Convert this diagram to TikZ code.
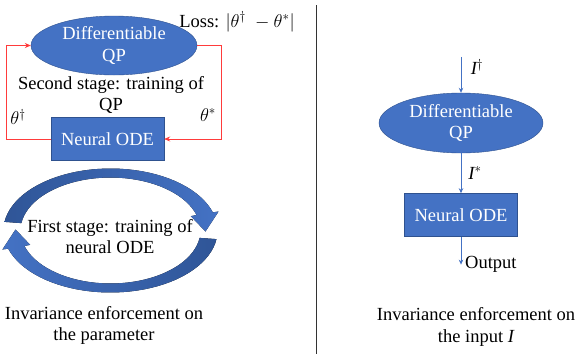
\RequirePackage{fix-cm}
\documentclass[tikz,border=0pt]{standalone}
\usepackage{fontspec}
\setmainfont{Liberation Serif}
\usepackage{amsmath,amssymb}
\usetikzlibrary{arrows.meta,positioning,shapes.geometric}
\definecolor{boxblue}{HTML}{4472C4}
\definecolor{boxline}{HTML}{2F528F}
\definecolor{ringdk}{HTML}{2F5597}
\definecolor{ringlt}{HTML}{4472C4}
\definecolor{loopred}{HTML}{FF3B3B}

\begin{document}
\begin{tikzpicture}[x=1pt, y=-1pt,
  font=\fontsize{18.5pt}{21.5pt}\selectfont,
  qp/.style={ellipse, draw=boxline, fill=boxblue, text=white, align=center, inner sep=0pt, minimum width=166pt, minimum height=59pt},
  ode/.style={rectangle, draw=boxline, fill=boxblue, text=white, minimum width=113pt, minimum height=43pt, inner sep=0pt},
  txt/.style={align=center, inner sep=1pt},
  redarr/.style={-{Stealth[length=6pt,width=5pt]}, draw=loopred, line width=0.7pt},
  bluearr/.style={-{Stealth[length=5pt,width=4.5pt]}, draw=boxblue, line width=0.7pt}
]
\useasboundingbox (0,0) rectangle (581,354);

% left: invariance on the parameter
\node[qp] (qpL) at (114,45.5) {Differentiable\\QP};
\node[ode] (odeL) at (107.5,139) {Neural ODE};
\node[txt] (loss) at (237,22) {Loss: $|\theta^{\dagger}\;-\theta^{*}|$};
\node[txt] (stage2) at (111,95) {Second stage: training of\\QP};
\node (thdag) at (18,117) {$\theta^{\dagger}$};
\node (thstar) at (208,115) {$\theta^{*}$};

\draw[redarr] (odeL.west) -- ++(-44,0) |- (qpL.west);
\draw[redarr] (qpL.east) -- ++(24,0) |- (odeL.east);

% circular arrows
\fill[left color=ringdk, right color=ringlt]
  plot[domain=172:17, samples=40, variable=\t] ({110.5+107*cos(\t)},{230.5-62*sin(\t)})
  -- ({110.5+113*cos(17)},{230.5-65*sin(17)})
  -- ({110.5+95*cos(-1)},{230.5-57*sin(-1)})
  -- ({110.5+84*cos(17)},{230.5-49*sin(17)})
  -- plot[domain=17:172, samples=40, variable=\t] ({110.5+90*cos(\t)},{230.5-53*sin(\t)})
  -- cycle;
\fill[left color=ringlt, right color=ringdk]
  plot[domain=352:197, samples=40, variable=\t] ({110.5+107*cos(\t)},{230.5-62*sin(\t)})
  -- ({110.5+113*cos(197)},{230.5-65*sin(197)})
  -- ({110.5+95*cos(179)},{230.5-57*sin(179)})
  -- ({110.5+84*cos(197)},{230.5-49*sin(197)})
  -- plot[domain=197:352, samples=40, variable=\t] ({110.5+90*cos(\t)},{230.5-53*sin(\t)})
  -- cycle;
\node[txt] (stage1) at (110,236.5) {First stage: training of\\neural ODE};

\node[txt] (invL) at (104,325.5) {Invariance enforcement on\\the parameter};

% separator
\draw[line width=0.9pt, black!80] (316,5) -- (316,354);

% right: invariance on the input
\node[qp, minimum width=164pt, minimum height=60pt] (qpR) at (461,123) {Differentiable\\QP};
\node[ode, below=40pt of qpR] (odeR) {Neural ODE};
\coordinate[above=36pt of qpR] (inR);
\coordinate[below=28pt of odeR] (outR);
\draw[bluearr] (inR) -- (qpR);
\draw[bluearr] (qpR) -- (odeR);
\draw[bluearr] (odeR) -- (outR);
\node[right=3pt of outR, inner sep=1pt] (out) {Output};
\node (idag) at (477,67) {{\itshape I}$^{\dagger}$};
\node (istar) at (475,173) {{\itshape I}$^{*}$};
\node[txt] (invR) at (476,327) {Invariance enforcement on\\the input {\itshape I}};
\end{tikzpicture}
\end{document}
